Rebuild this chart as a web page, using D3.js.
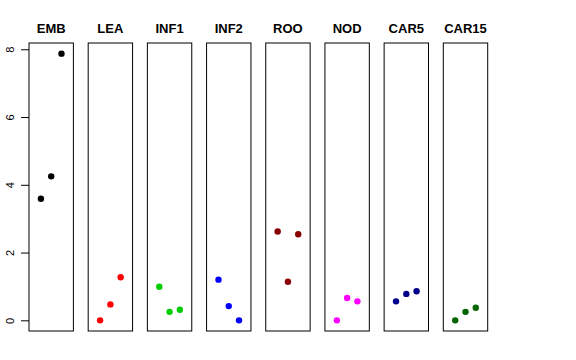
<!DOCTYPE html>
<html>
<head>
<meta charset="utf-8">
<script src="https://cdn.jsdelivr.net/npm/d3@7"></script>
<style>
  body { margin: 0; background: #fff; }
  text { font-family: "Liberation Sans", Arial, sans-serif; }
</style>
</head>
<body>
<svg width="576" height="360" id="mainsvg"></svg>
<script>
// data per panel, three points each
const panels = ["EMB", "LEA", "INF1", "INF2", "ROO", "NOD", "CAR5", "CAR15"];
const colors = ["#000000", "#FF0000", "#00CD00", "#0000FF", "#8B0000", "#FF00FF", "#00008B", "#006400"];
const values = [
  [3.59, 4.25, 7.87],
  [0.00, 0.47, 1.27],
  [0.99, 0.25, 0.31],
  [1.20, 0.42, 0.00],
  [2.62, 1.14, 2.54],
  [0.00, 0.66, 0.56],
  [0.56, 0.78, 0.86],
  [0.00, 0.25, 0.37]
];
const yTicks = [0, 2, 4, 6, 8];

const svg = d3.select('#mainsvg');
const plotTop = 43, plotBottom = 331;

const panelScale = d3.scaleBand().domain(panels).range([29, 487.7]).paddingInner(0.25);
const yScale = d3.scaleLinear().domain([-0.315, 8.185]).range([plotBottom, plotTop]);
const xInner = d3.scaleLinear().domain([-0.16, 4.16]).range([0, panelScale.bandwidth()]);

panels.forEach((p, i) => {
  const g = svg.append('g').attr('transform', `translate(${panelScale(p)},0)`);
  g.append('rect')
    .attr('x', 0).attr('y', plotTop)
    .attr('width', panelScale.bandwidth()).attr('height', plotBottom - plotTop)
    .attr('fill', 'none').attr('stroke', '#000').attr('stroke-width', 1);
  g.append('text')
    .attr('x', panelScale.bandwidth() / 2).attr('y', 33)
    .attr('text-anchor', 'middle')
    .attr('font-size', 13).attr('font-weight', 'bold')
    .text(p);
  g.selectAll('circle').data(values[i]).join('circle')
    .attr('cx', (d, j) => xInner(j + 1))
    .attr('cy', d => yScale(d))
    .attr('r', 3.2)
    .attr('fill', colors[i]);
});

// y axis on the first panel
const yAxis = d3.axisLeft(yScale).tickValues(yTicks).tickSize(8).tickPadding(4);
const axisG = svg.append('g').attr('transform', `translate(${panelScale(panels[0])},0)`).call(yAxis);
axisG.select('.domain').remove();
axisG.selectAll('.tick line').attr('stroke', '#000');
axisG.selectAll('.tick text')
  .attr('font-size', 11)
  .attr('font-family', '"Liberation Sans", Arial, sans-serif')
  .attr('fill', '#000')
  .attr('text-anchor', 'middle')
  .attr('dy', null)
  .attr('transform', 'rotate(-90)')
  .attr('x', 0)
  .attr('y', -15);
</script>
</body>
</html>
